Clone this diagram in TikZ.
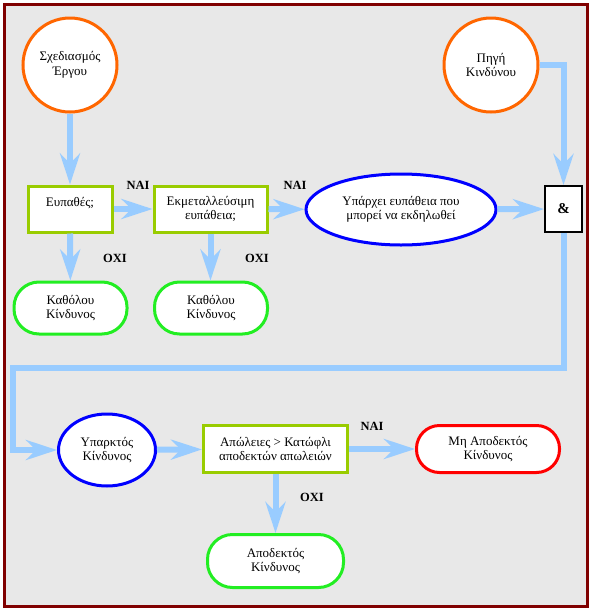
\documentclass[tikz,border=0pt]{standalone}
\usepackage{fontspec}
\setmainfont{Liberation Serif}
\usepackage{xcolor}
\usepackage{tikz}
\usetikzlibrary{arrows.meta, shapes.geometric, positioning}
\definecolor{framered}{HTML}{800000}
\definecolor{bggray}{HTML}{E8E8E8}
\definecolor{startorange}{HTML}{FF6600}
\definecolor{askgreen}{HTML}{99CC00}
\definecolor{endgreen}{HTML}{22EE22}
\definecolor{flowblue}{HTML}{99CCFF}

\begin{document}
\begin{tikzpicture}[x=1pt, y=-1pt,
        every node/.style={font=\fontsize{13}{14.5}\selectfont, align=center, fill=white, inner sep=0pt},
        start/.style={circle, draw=startorange, line width=3pt, minimum size=94pt},
        ask/.style={rectangle, draw=askgreen, line width=3pt, minimum height=46pt},
        state/.style={ellipse, draw=blue, line width=3pt},
        finish/.style={rectangle, rounded corners=25pt, draw=endgreen, line width=3pt, minimum height=52pt},
        bad/.style={rectangle, rounded corners=23pt, draw=red, line width=3pt, minimum height=47pt},
        answer/.style={fill=none, font=\fontsize{12.5}{14}\selectfont\bfseries},
        flow/.style={draw=flowblue, line width=6pt, -{Stealth[length=31pt, width=20pt, inset=10pt]}}]
            \useasboundingbox (0,0) rectangle (592,611);
            \draw[draw=framered, line width=3pt, fill=bggray] (4,4) rectangle (587,606);

            % top row
            \node[start] (design) at (70,65) {Σχεδιασμός\\Έργου};
            \node[start] (source) at (491,65) {Πηγή\\Κινδύνου};
            \node[ask, minimum width=84pt] (vuln) at (70,209) {Ευπαθές;\\~};
            \node[ask, minimum width=113pt] (exploit) at (210.5,209) {Εκμεταλλεύσιμη\\ευπάθεια;};
            \node[state, minimum width=190pt, minimum height=71pt] (exists) at (401,209.5) {Υπάρχει ευπάθεια που\\μπορεί να εκδηλωθεί};
            \node[rectangle, draw=black, line width=2pt, minimum width=37pt, minimum height=46pt,
                  font=\fontsize{15}{16}\selectfont\bfseries] (and) at (563.5,209) {\&};
            \node[finish, minimum width=113pt] (none1) at (70.5,308) {Καθόλου\\Κίνδυνος};
            \node[finish, minimum width=113pt] (none2) at (211,308) {Καθόλου\\Κίνδυνος};

            % bottom row
            \node[state, minimum width=97pt, minimum height=72pt] (real) at (107,450) {Υπαρκτός\\Κίνδυνος};
            \node[ask, minimum width=144pt, minimum height=47pt] (loss) at (275.5,449) {Απώλειες > Κατώφλι\\αποδεκτών απωλειών};
            \node[bad, minimum width=143pt] (notok) at (488,449) {Μη Αποδεκτός\\Κίνδυνος};
            \node[finish, minimum width=136pt, minimum height=53pt] (ok) at (275.5,561) {Αποδεκτός\\Κίνδυνος};

            % labels
            \node[answer] (yes1) at (138,185) {ΝΑΙ};
            \node[answer] (yes2) at (295,185) {ΝΑΙ};
            \node[answer] (yes3) at (372,426) {ΝΑΙ};
            \node[answer] (no1) at (115,258) {ΟΧΙ};
            \node[answer] (no2) at (257,258) {ΟΧΙ};
            \node[answer] (no3) at (312,497) {ΟΧΙ};

            % connectors
            \coordinate (turnR) at (563.5,368);
            \coordinate (turnL) at (12.5,368);
            \draw[flow] (design) -- (vuln);
            \draw[flow] (vuln) -- (exploit);
            \draw[flow] (exploit) -- (exists);
            \draw[flow] (exists) -- (and);
            \draw[flow] (source.east) -| (and.north);
            \draw[flow] (vuln) -- (none1);
            \draw[flow] (exploit.south) -- (exploit.south |- none2.north);
            \draw[flow] (and.south) -- (turnR) -- (turnL) |- (real.west);
            \draw[flow] (real) -- (loss);
            \draw[flow] (loss.east) -- (loss.east -| notok.west);
            \draw[flow] (loss) -- (ok);
        \end{tikzpicture}
\end{document}
